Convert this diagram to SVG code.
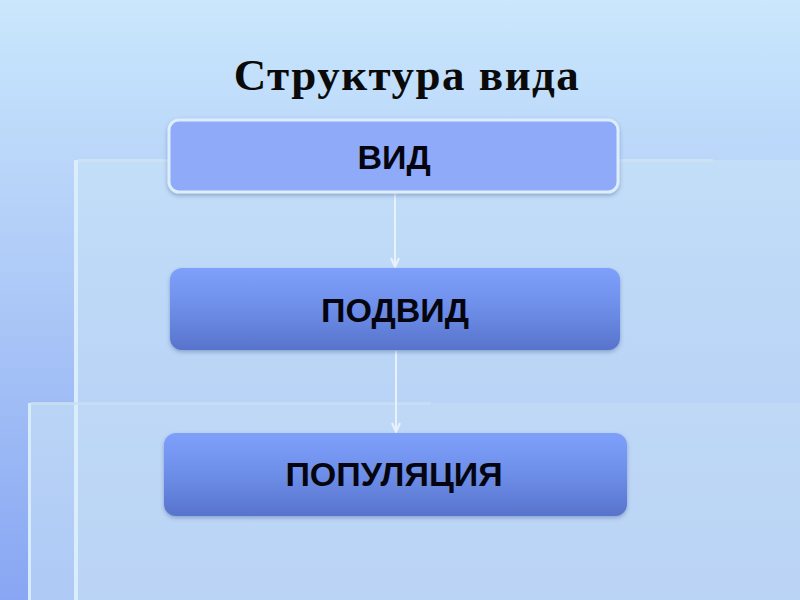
<svg xmlns="http://www.w3.org/2000/svg" width="800" height="600" viewBox="0 0 800 600">
<style>
.title{font-family:"Liberation Serif","Times New Roman",serif;font-weight:bold;font-size:45px;fill:#0a0a0a;letter-spacing:1.5px}
.lbl{font-family:"Liberation Sans",Arial,sans-serif;font-weight:bold;font-size:34px;fill:#050510;text-anchor:middle}
.conn{stroke:#e8f2fc;stroke-width:2;fill:none}
.head{stroke:#e8f2fc;stroke-width:2;fill:none;stroke-linejoin:round}
</style>
<defs>
<linearGradient id="bg" x1="0" y1="0" x2="0" y2="1">
<stop offset="0" stop-color="#cae7fd"/>
<stop offset="0.5" stop-color="#acc8f7"/>
<stop offset="1" stop-color="#88a6f3"/>
</linearGradient>
<linearGradient id="panel" x1="0" y1="0" x2="0" y2="1">
<stop offset="0" stop-color="#c3def8"/>
<stop offset="1" stop-color="#b0cbf4"/>
</linearGradient>
<linearGradient id="panel2" x1="0" y1="0" x2="0" y2="1">
<stop offset="0" stop-color="#bdd7f6"/>
<stop offset="1" stop-color="#b2cdf5"/>
</linearGradient>
<linearGradient id="box" x1="0" y1="0" x2="0" y2="1">
<stop offset="0" stop-color="#7ea0fb"/>
<stop offset="0.5" stop-color="#6d8ee8"/>
<stop offset="1" stop-color="#5873cc"/>
</linearGradient>
<filter id="sh" x="-5%" y="-10%" width="110%" height="130%">
<feDropShadow dx="0" dy="2" stdDeviation="2" flood-color="#4a5f9a" flood-opacity="0.45"/>
</filter>
</defs>
<g id="background">
<rect x="0" y="0" width="800" height="600" fill="url(#bg)"/>
<rect x="74" y="160" width="726" height="440" fill="url(#panel)"/>
<rect x="28" y="403" width="772" height="197" fill="url(#panel2)" opacity="0.9"/>
<rect x="74" y="403" width="726" height="197" fill="#bfd8f6" opacity="0.6"/>
<rect x="74" y="160" width="4" height="440" fill="#d9eefa"/>
<rect x="28" y="403" width="3" height="197" fill="#d6ecfa"/>
<rect x="78" y="159" width="635" height="3" fill="#d0e4f2" opacity="0.8"/>
<rect x="31" y="402" width="400" height="3" fill="#c8def4" opacity="0.8"/>
</g>
<text class="title" x="407" y="90" text-anchor="middle">Структура вида</text>
<g id="connectors">
<line class="conn" x1="395" y1="193" x2="395" y2="267"/>
<polyline class="head" points="391,258 395,267 399,258"/>
<line class="conn" x1="396" y1="351" x2="396" y2="432"/>
<polyline class="head" points="392,423 396,432 400,423"/>
</g>
<g id="node-vid">
<rect x="169" y="120" width="449" height="72" rx="10" fill="#8eaaf8" stroke="#dcedfb" stroke-width="3" filter="url(#sh)"/>
<text class="lbl" x="394" y="169">ВИД</text>
</g>
<g id="node-podvid">
<rect x="170" y="268" width="450" height="82" rx="12" fill="url(#box)" filter="url(#sh)"/>
<text class="lbl" x="395" y="322">ПОДВИД</text>
</g>
<g id="node-populyatsiya">
<rect x="164" y="433" width="463" height="83" rx="12" fill="url(#box)" filter="url(#sh)"/>
<text class="lbl" x="394" y="486">ПОПУЛЯЦИЯ</text>
</g>
</svg>
